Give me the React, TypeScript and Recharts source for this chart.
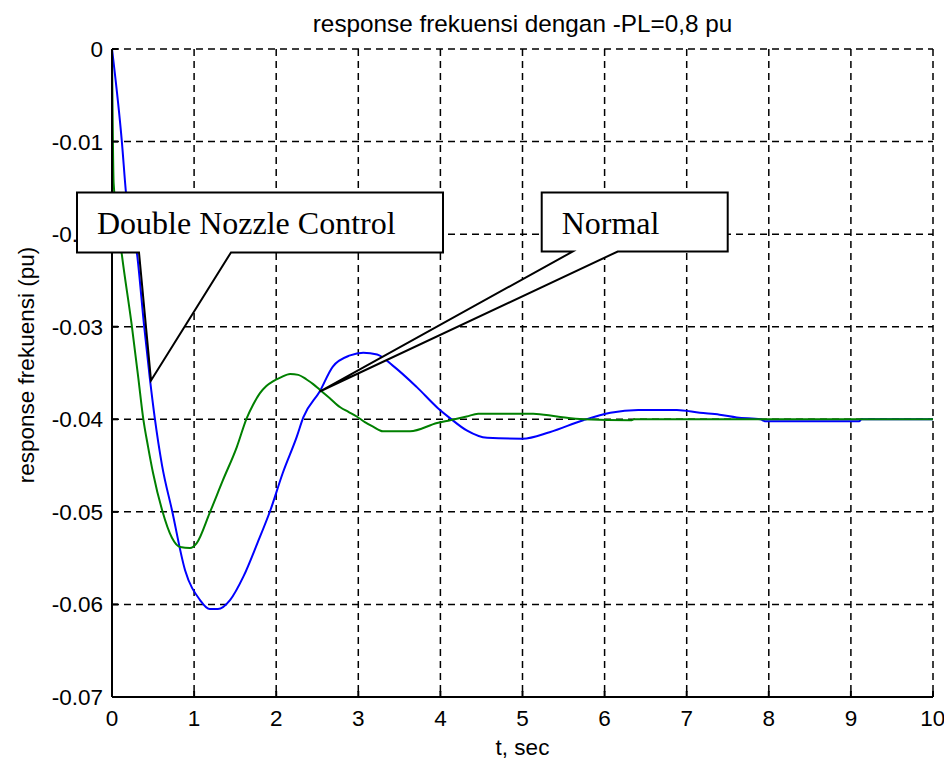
import { LineChart, Line, XAxis, YAxis, CartesianGrid, ReferenceDot } from "recharts";

// Normal (blue)
const tNormal = [0, 0.12, 0.17, 0.31, 0.39, 0.46, 0.52, 0.61, 0.73, 0.89, 1.07, 1.19, 1.29, 1.44, 1.6, 1.77, 1.93, 2.08, 2.25, 2.33, 2.53, 2.69, 2.9, 3.06, 3.23, 3.42, 3.71, 3.97, 4.12, 4.32, 4.57, 5.0, 5.33, 5.74, 6.07, 6.41, 6.88, 7.16, 7.4, 7.61, 7.9, 7.95, 9.1, 9.13, 10];
const fNormal = [0, -0.01, -0.0155, -0.0225, -0.0298, -0.0355, -0.0398, -0.045, -0.0498, -0.0563, -0.0595, -0.0605, -0.0605, -0.0595, -0.057, -0.0534, -0.0498, -0.0458, -0.0419, -0.0398, -0.037, -0.0343, -0.0331, -0.0328, -0.033, -0.0342, -0.0365, -0.0388, -0.0399, -0.0412, -0.042, -0.0421, -0.0414, -0.0401, -0.0393, -0.039, -0.039, -0.0393, -0.0395, -0.0398, -0.04, -0.0402, -0.0402, -0.04, -0.04];

// Double Nozzle Control (green)
const tDouble = [0, 0.02, 0.12, 0.24, 0.32, 0.38, 0.44, 0.5, 0.61, 0.73, 0.83, 0.95, 1.03, 1.19, 1.35, 1.52, 1.64, 1.72, 1.8, 1.88, 1.96, 2.05, 2.17, 2.27, 2.37, 2.45, 2.53, 2.65, 2.78, 2.88, 2.98, 3.08, 3.18, 3.3, 3.63, 3.96, 4.12, 4.32, 4.46, 5.13, 5.42, 5.74, 6.33, 6.36, 10];
const fDouble = [0, -0.0145, -0.0222, -0.0298, -0.0355, -0.0399, -0.043, -0.0458, -0.0498, -0.0528, -0.0538, -0.0539, -0.0534, -0.0501, -0.0466, -0.043, -0.0399, -0.0384, -0.0372, -0.0364, -0.0359, -0.0355, -0.0351, -0.0352, -0.0357, -0.0362, -0.0368, -0.0377, -0.0387, -0.0392, -0.0397, -0.0403, -0.0408, -0.0413, -0.0413, -0.0404, -0.0401, -0.0397, -0.0394, -0.0394, -0.0397, -0.04, -0.0401, -0.04, -0.04];

const xTicks = [0, 1, 2, 3, 4, 5, 6, 7, 8, 9, 10];
const yTicks = [0, -0.01, -0.02, -0.03, -0.04, -0.05, -0.06, -0.07];

// callout anchors (where the arrow points)
const calloutLabels = ["Double Nozzle Control", "Normal"];
const calloutT = [0.475, 2.53];
const calloutV = [-0.0358, -0.037];

const normalData = tNormal.map((t, i) => ({ t, v: fNormal[i] }));
const doubleData = tDouble.map((t, i) => ({ t, v: fDouble[i] }));

const FONT = "'Liberation Sans', Arial, sans-serif";
const TICK = { fill: "#000", fontSize: 22.5, fontFamily: FONT };

// box geometry relative to the arrow tip: left, right, top, bottom, base1, base2
const BOXES = [
  { l: -74, r: 292, top: -188, bot: -128, b1: -12, b2: 80 },
  { l: 222, r: 408, top: -199, bot: -140, b1: 253, b2: 298 },
];

const callout = (idx: number) => (p: any) => {
  const { cx, cy } = p;
  const b = BOXES[idx];
  const d = `M${cx + b.l},${cy + b.top} L${cx + b.r},${cy + b.top} L${cx + b.r},${cy + b.bot} L${cx + b.b2},${cy + b.bot} L${cx},${cy} L${cx + b.b1},${cy + b.bot} L${cx + b.l},${cy + b.bot} Z`;
  return (
    <g>
      <path d={d} fill="#fff" stroke="#000" strokeWidth={2} />
      <text x={cx + b.l + 20} y={cy + b.bot - 18} fontFamily="'Liberation Serif', 'Times New Roman', serif" fontSize={32} fill="#000">
        {calloutLabels[idx]}
      </text>
    </g>
  );
};

const fmtY = (v: number) => (v === 0 ? "0" : v.toFixed(2));

export default function App() {
  return (
    <div style={{ position: "absolute", left: 0, top: 0, width: 944, height: 763, background: "#fff" }}>
      <LineChart width={944} height={763} data={normalData} margin={{ top: 49, right: 11, bottom: 26, left: 32 }}>
        <CartesianGrid stroke="#000" strokeWidth={1.5} strokeDasharray="7 5" />
        <XAxis dataKey="t" type="number" domain={[0, 10]} ticks={xTicks} height={40}
          stroke="#000" strokeWidth={2} tickSize={-6} tickMargin={19} tick={TICK} allowDataOverflow />
        <XAxis xAxisId="top" orientation="top" dataKey="t" type="number" domain={[0, 10]} ticks={xTicks} height={0}
          stroke="#000" strokeWidth={2} tickSize={-6} tick={false} />
        <YAxis dataKey="v" type="number" domain={[-0.07, 0]} ticks={yTicks} width={80}
          stroke="#000" strokeWidth={2} tickSize={-6} tickMargin={15} tick={TICK} tickFormatter={fmtY} allowDataOverflow />
        <YAxis yAxisId="right" orientation="right" type="number" domain={[-0.07, 0]} ticks={yTicks} width={0}
          stroke="#000" strokeWidth={2} tickSize={-6} tick={false} />
        <Line data={normalData} dataKey="v" stroke="#0000ff" strokeWidth={2} dot={false} type="monotone" isAnimationActive={false} />
        <Line data={doubleData} dataKey="v" stroke="#008000" strokeWidth={2} dot={false} type="monotone" isAnimationActive={false} />
      </LineChart>
      {/* callouts on a second chart with the same scales, so they sit above the tick labels */}
      <div style={{ position: "absolute", left: 0, top: 0 }}>
        <LineChart width={944} height={763} data={normalData} margin={{ top: 49, right: 11, bottom: 66, left: 112 }}>
          <XAxis dataKey="t" type="number" domain={[0, 10]} hide />
          <YAxis dataKey="v" type="number" domain={[-0.07, 0]} hide />
          {calloutLabels.map((lab, i) => (
            <ReferenceDot key={lab} x={calloutT[i]} y={calloutV[i]} r={0} ifOverflow="visible" shape={callout(i)} />
          ))}
        </LineChart>
      </div>
      <svg width={944} height={763} style={{ position: "absolute", left: 0, top: 0, pointerEvents: "none" }}>
        <text x={522.5} y={32} textAnchor="middle" fontFamily={FONT} fontSize={24.3} fill="#000">
          response frekuensi dengan -PL=0,8 pu
        </text>
        <text x={522.5} y={755} textAnchor="middle" fontFamily={FONT} fontSize={22.5} fill="#000">
          t, sec
        </text>
        <text transform="translate(34,365) rotate(-90)" textAnchor="middle" fontFamily={FONT} fontSize={22.5} fill="#000">
          response frekuensi (pu)
        </text>
      </svg>
    </div>
  );
}
